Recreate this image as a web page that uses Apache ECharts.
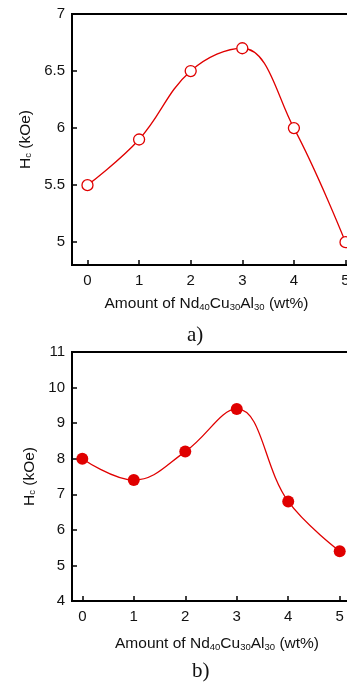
<!DOCTYPE html>
<html>
<head>
<meta charset="utf-8">
<script src="https://cdn.jsdelivr.net/npm/echarts@6/dist/echarts.min.js"></script>
<style>
  html, body { margin: 0; padding: 0; background: #fff; overflow: hidden; }
  #chart { width: 347px; height: 682px; }
</style>
</head>
<body>
<div id="chart"></div>
<script>
// wt% of Nd40Cu30Al30 added
const amounts = [0, 1, 2, 3, 4, 5]
// coercivity Hc (kOe), panel a and panel b
const hcA = [5.5, 5.9, 6.5, 6.7, 6.0, 5.0]
const hcB = [8.0, 7.4, 8.2, 9.4, 6.8, 5.4]
const captions = ['a)', 'b)']

const red = '#e00000'
const font = 'Liberation Sans, Arial, sans-serif'

const xName = '{n|Amount of Nd}{s|40}{n|Cu}{s|30}{n|Al}{s|30}{n| (wt%)}'
const yName = '{n|H}{s|c}{n| (kOe)}'
const rich = {
  n: { fontSize: 15.5, fontFamily: font, color: '#111', lineHeight: 18, verticalAlign: 'bottom' },
  s: { fontSize: 9.5, fontFamily: font, color: '#111', lineHeight: 4, verticalAlign: 'bottom' }
}

const pairs = (ys) => amounts.map((x, i) => [x, ys[i]])

// hide labels that are not on the nice ticks (ECharts adds min/max ticks)
const onStep = (step) => (v) => {
  const k = Math.round(v / step)
  return Math.abs(k * step - v) < 1e-6 ? String(+(k * step).toFixed(2)) : ''
}

const xAxisBase = (gridIndex, min, max) => ({
  type: 'value',
  gridIndex,
  min,
  max,
  splitNumber: 5,
  name: xName,
  nameLocation: 'middle',
  nameTextStyle: { rich },
  axisLine: { onZero: false, lineStyle: { color: '#000', width: 2 } },
  axisTick: { inside: true, length: 5, lineStyle: { color: '#000', width: 1.5 } },
  axisLabel: { color: '#111', fontSize: 15, fontFamily: font, margin: 8, formatter: onStep(1) },
  splitLine: { show: false }
})

const yAxisBase = (gridIndex, min, max) => ({
  type: 'value',
  gridIndex,
  min,
  max,
  name: yName,
  nameLocation: 'middle',
  nameRotate: 90,
  nameTextStyle: { rich },
  axisLine: { show: true, onZero: false, lineStyle: { color: '#000', width: 2 } },
  axisTick: { show: true, inside: true, length: 5, lineStyle: { color: '#000', width: 1.5 } },
  axisLabel: { color: '#111', fontSize: 15, fontFamily: font, margin: 7 },
  splitLine: { show: false }
})

const chart = echarts.init(document.getElementById('chart'))

const xa = xAxisBase(0, -0.3, 5.3)
xa.nameGap = 29
xa.nameTextStyle = { rich, padding: [0, 20, 0, 0] }
const xb = xAxisBase(1, -0.2, 5.2)
xb.nameGap = 33
xb.nameTextStyle = { rich, padding: [0, 0, 0, 12] }

const ya = yAxisBase(0, 4.8, 7)
ya.splitNumber = 5
ya.nameGap = 33
ya.axisLabel.formatter = onStep(0.5)
const yb = yAxisBase(1, 4, 11)
yb.interval = 1
yb.nameGap = 26

chart.setOption({
  animation: false,
  title: [
    { text: captions[0], left: 187, top: 325, padding: 0,
      textStyle: { fontFamily: 'Liberation Serif, Times New Roman, serif', fontSize: 21, fontWeight: 'normal', color: '#111' } },
    { text: captions[1], left: 192, top: 661, padding: 0,
      textStyle: { fontFamily: 'Liberation Serif, Times New Roman, serif', fontSize: 21, fontWeight: 'normal', color: '#111' } }
  ],
  grid: [
    { left: 72, top: 14, width: 289, height: 251, outerBoundsMode: 'none', show: true, borderColor: '#000', borderWidth: 2 },
    { left: 72, top: 352, width: 278, height: 249, outerBoundsMode: 'none', show: true, borderColor: '#000', borderWidth: 2 }
  ],
  xAxis: [xa, xb],
  yAxis: [ya, yb],
  series: [
    {
      type: 'line',
      xAxisIndex: 0,
      yAxisIndex: 0,
      data: pairs(hcA),
      smooth: 0.4,
      symbol: 'circle',
      symbolSize: 11,
      lineStyle: { color: red, width: 1.3 },
      itemStyle: { color: '#fff', borderColor: red, borderWidth: 1.3 }
    },
    {
      type: 'line',
      xAxisIndex: 1,
      yAxisIndex: 1,
      data: pairs(hcB),
      smooth: 0.4,
      symbol: 'circle',
      symbolSize: 12,
      lineStyle: { color: red, width: 1.3 },
      itemStyle: { color: red, borderColor: red, borderWidth: 0 }
    }
  ]
})
</script>
</body>
</html>
